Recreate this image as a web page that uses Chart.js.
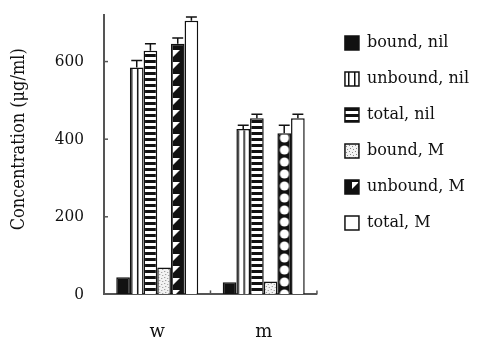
<!DOCTYPE html>
<html>
<head>
<meta charset="utf-8">
<script src="https://cdn.jsdelivr.net/npm/chart.js@4.4.1/dist/chart.umd.min.js"></script>
<style>
html,body{margin:0;padding:0;background:#fff;}
#wrap{width:479px;height:343px;position:relative;}
</style>
</head>
<body>
<div id="wrap"><canvas id="c" width="479" height="343"></canvas></div>
<script>
// ---- data ----
const categories = ['w', 'm'];
const seriesNames = ['bound, nil', 'unbound, nil', 'total, nil', 'bound, M', 'unbound, M', 'total, M'];
const boundNil = [44, 31];
const unboundNil = [585, 426];
const totalNil = [628, 454];
const boundM = [69, 33];
const unboundM = [646, 415];
const totalM = [705, 454];
const boundNilErr = [0, 0];
const unboundNilErr = [18, 10];
const totalNilErr = [18, 10];
const boundMErr = [0, 0];
const unboundMErr = [15, 21];
const totalMErr = [10, 10];
const yTickValues = [0, 200, 400, 600];
const yTitle = 'Concentration (μg/ml)';

// ---- patterns ----
function makePattern(w, h, draw) {
  const c = document.createElement('canvas');
  c.width = w; c.height = h;
  const g = c.getContext('2d');
  draw(g, w, h);
  return g.createPattern(c, 'repeat');
}
const drawVert = (g) => {
  g.fillStyle = '#fff'; g.fillRect(0, 0, 6, 6);
  g.fillStyle = '#111'; g.fillRect(0, 0, 1.5, 6);
};
const drawHoriz = (g) => {
  g.fillStyle = '#fff'; g.fillRect(0, 0, 6, 6);
  g.fillStyle = '#111'; g.fillRect(0, 0, 6, 3);
};
const drawSpeck = (g) => {
  g.fillStyle = '#f2f2f2'; g.fillRect(0, 0, 6, 6);
  g.fillStyle = '#888';
  g.fillRect(1, 1, 1, 1); g.fillRect(4, 2, 1, 1); g.fillRect(2, 4, 1, 1); g.fillRect(5, 5, 1, 1);
};
const drawTri = (g) => {
  g.fillStyle = '#111'; g.fillRect(0, 0, 14, 12);
  g.fillStyle = '#fff';
  g.beginPath(); g.moveTo(2, 2); g.lineTo(9, 2); g.lineTo(2, 9); g.closePath(); g.fill();
};
const drawCirc = (g) => {
  g.fillStyle = '#111'; g.fillRect(0, 0, 14, 12);
  g.fillStyle = '#fff';
  g.beginPath(); g.arc(7, 6, 4.6, 0, Math.PI * 2); g.fill();
};
// one pattern object per category so each can be aligned to its own bar
const patSets = [
  null,
  [makePattern(6, 6, drawVert), makePattern(6, 6, drawVert)],
  [makePattern(6, 6, drawHoriz), makePattern(6, 6, drawHoriz)],
  [makePattern(6, 6, drawSpeck), makePattern(6, 6, drawSpeck)],
  [makePattern(14, 12, drawTri), makePattern(14, 12, drawCirc)],
  null
];
const patOffsets = [0, 1, 0, 0, 0, 0];
const solidFills = ['#111', null, null, null, null, '#fff'];

const values = [boundNil, unboundNil, totalNil, boundM, unboundM, totalM];
const errors = [boundNilErr, unboundNilErr, totalNilErr, boundMErr, unboundMErr, totalMErr];

const datasets = seriesNames.map((name, i) => ({
  label: name,
  data: values[i],
  errors: errors[i],
  backgroundColor: patSets[i]
    ? (ctx) => patSets[i][ctx.type === 'data' ? ctx.dataIndex : 0]
    : solidFills[i],
  borderColor: '#111',
  borderWidth: 1.5,
  borderSkipped: 'bottom'
}));

// ---- plugins ----
const alignPatterns = {
  id: 'alignPatterns',
  beforeDatasetsDraw(chart) {
    chart.data.datasets.forEach((ds, di) => {
      if (!patSets[di]) return;
      chart.getDatasetMeta(di).data.forEach((bar, i) => {
        const left = bar.x - bar.width / 2 + patOffsets[di];
        patSets[di][i].setTransform(new DOMMatrix([1, 0, 0, 1, left, 0]));
      });
    });
  }
};
const errorBars = {
  id: 'errorBars',
  afterDatasetsDraw(chart) {
    const ctx = chart.ctx;
    const y = chart.scales.y;
    ctx.save();
    ctx.strokeStyle = '#111';
    ctx.lineWidth = 1.5;
    chart.data.datasets.forEach((ds, di) => {
      const meta = chart.getDatasetMeta(di);
      meta.data.forEach((bar, i) => {
        const e = ds.errors[i];
        if (!e) return;
        const top = y.getPixelForValue(ds.data[i] + e);
        const half = bar.width * 0.4;
        ctx.beginPath();
        ctx.moveTo(bar.x, bar.y);
        ctx.lineTo(bar.x, top);
        ctx.moveTo(bar.x - half, top);
        ctx.lineTo(bar.x + half, top);
        ctx.stroke();
      });
    });
    ctx.restore();
  }
};
const innerTicks = {
  id: 'innerTicks',
  afterDraw(chart) {
    const ctx = chart.ctx;
    const {x, y} = chart.scales;
    const a = chart.chartArea;
    ctx.save();
    ctx.strokeStyle = '#555';
    ctx.lineWidth = 1.5;
    y.ticks.forEach(t => {
      if (t.value === 0) return;
      const py = y.getPixelForValue(t.value);
      ctx.beginPath(); ctx.moveTo(a.left, py); ctx.lineTo(a.left + 4, py); ctx.stroke();
    });
    for (let i = 1; i <= categories.length; i++) {
      const px = a.left + (a.right - a.left) * i / categories.length;
      ctx.beginPath(); ctx.moveTo(px, a.bottom); ctx.lineTo(px, a.bottom - 4); ctx.stroke();
    }
    ctx.restore();
  }
};

const clear = 'rgba(0,0,0,0)';

new Chart(document.getElementById('c'), {
  type: 'bar',
  data: { labels: categories, datasets },
  plugins: [alignPatterns, errorBars, innerTicks],
  options: {
    responsive: false,
    animation: false,
    layout: { padding: { top: 15, left: 6, right: 0, bottom: 0 } },
    plugins: {
      tooltip: { enabled: false },
      legend: {
        position: 'right',
        align: 'start',
        maxWidth: 200,
        labels: {
          boxWidth: 14,
          boxHeight: 14,
          padding: 20,
          color: '#111',
          font: { family: 'DejaVu Serif', size: 16 }
        }
      }
    },
    datasets: { bar: { categoryPercentage: 0.77, barPercentage: 1.0 } },
    scales: {
      x: {
        grid: { display: true, drawOnChartArea: false, drawTicks: true, tickLength: 27, color: clear },
        border: { display: true, color: '#555', width: 2 },
        ticks: { color: '#111', padding: 0, font: { family: 'DejaVu Serif', size: 18 } }
      },
      y: {
        min: 0,
        max: 720,
        grid: { display: true, drawOnChartArea: false, drawTicks: true, tickLength: 20, color: clear },
        border: { display: true, color: '#555', width: 2 },
        afterBuildTicks: (s) => { s.ticks = yTickValues.map(v => ({ value: v })); },
        afterFit: (s) => { s.width = 98; },
        ticks: { color: '#111', padding: 0, font: { family: 'DejaVu Serif Condensed', size: 17 } },
        title: {
          display: true,
          text: '\u00a0\u00a0\u00a0\u00a0\u00a0\u00a0' + yTitle,
          color: '#111',
          padding: { top: 3, bottom: 10 },
          font: { family: 'DejaVu Serif Condensed', size: 18 }
        }
      },
      gap: {
        position: 'right',
        display: true,
        grid: { display: false, drawTicks: false },
        border: { display: false },
        ticks: { display: false },
        afterFit: (s) => { s.width = 8; }
      }
    }
  }
});
</script>
</body>
</html>
